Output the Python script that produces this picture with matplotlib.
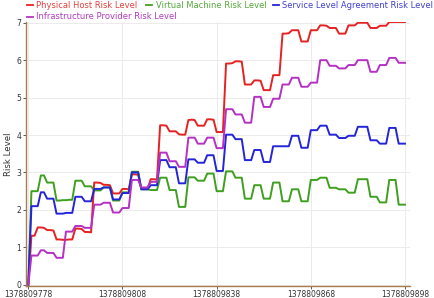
import numpy as np
import matplotlib
matplotlib.use("Agg")
import matplotlib.pyplot as plt
from matplotlib.lines import Line2D

# sample times (one per second)
t_start = 1378809778
t_end = 1378809898
times = np.arange(t_start, t_end + 1)
tick_times = [1378809778, 1378809808, 1378809838, 1378809868, 1378809898]

physical_host = [
    0,
    1.31, 1.31,
    1.53, 1.53, 1.52,
    1.46, 1.46, 1.45,
    1.21, 1.21, 1.20, 1.20, 1.21, 1.21,
    1.50, 1.50, 1.49,
    1.41, 1.41, 1.40,
    2.73, 2.73, 2.72, 2.67, 2.67, 2.66, 2.44, 2.44, 2.44, 2.56, 2.56, 2.55,
    2.95, 2.95, 2.94, 2.57, 2.57, 2.57, 2.82, 2.82, 2.81, 4.26, 4.26, 4.25,
    4.10, 4.10, 4.10, 4.02, 4.01, 4.01, 4.40, 4.41, 4.40, 4.25, 4.25, 4.25,
    4.42, 4.42, 4.41, 4.08, 4.08, 4.08, 5.91, 5.91, 5.92, 5.97, 5.97, 5.96,
    5.35, 5.35, 5.35, 5.46, 5.46, 5.45, 5.20, 5.20, 5.20, 5.60, 5.60, 5.60,
    6.71, 6.71, 6.72, 6.80, 6.80, 6.80, 6.50, 6.50, 6.50, 6.80, 6.80, 6.80,
    6.93, 6.93, 6.92, 6.86, 6.86, 6.86, 6.71, 6.71, 6.71, 6.93, 6.93, 6.93,
    7.00, 7.00, 7.00, 7.00, 6.86, 6.86, 6.86, 6.92, 6.92, 6.92,
    7.02, 7.02, 7.02, 7.02, 7.02, 7.02,
]

virtual_machine = [
    0,
    2.50, 2.50, 2.50,
    2.92, 2.92,
    2.73, 2.73, 2.73,
    2.25, 2.25, 2.26, 2.26, 2.27, 2.27,
    2.78, 2.78, 2.78,
    2.63, 2.63, 2.63,
    2.52, 2.52, 2.52, 2.60, 2.60, 2.60, 2.25, 2.25, 2.25, 2.47, 2.47, 2.47,
    3.02, 3.02, 3.02, 2.55, 2.55, 2.55, 2.53, 2.53, 2.53, 2.86, 2.86, 2.86,
    2.53, 2.53, 2.53, 2.08, 2.08, 2.08, 2.87, 2.87, 2.87, 2.78, 2.78, 2.78,
    2.97, 2.97, 2.97, 2.50, 2.50, 2.50, 3.03, 3.03, 3.03, 2.86, 2.86, 2.86,
    2.30, 2.30, 2.30, 2.66, 2.66, 2.66, 2.30, 2.30, 2.30, 2.73, 2.73, 2.73,
    2.23, 2.23, 2.23, 2.55, 2.55, 2.55, 2.23, 2.23, 2.23, 2.80, 2.80, 2.80,
    2.86, 2.86, 2.86, 2.59, 2.59, 2.59, 2.55, 2.55, 2.55, 2.46, 2.46, 2.46,
    2.82, 2.82, 2.82, 2.82, 2.35, 2.35, 2.35, 2.20, 2.20, 2.20,
    2.80, 2.80, 2.80, 2.14, 2.14, 2.14,
]

service_level = [
    0,
    2.10, 2.10, 2.10,
    2.47, 2.47,
    2.30, 2.30, 2.30,
    1.90, 1.90, 1.90, 1.92, 1.92, 1.92,
    2.35, 2.35, 2.35,
    2.23, 2.23, 2.23,
    2.56, 2.56, 2.56, 2.60, 2.60, 2.60, 2.28, 2.28, 2.28, 2.45, 2.45, 2.45,
    3.00, 3.00, 3.00, 2.55, 2.55, 2.55, 2.66, 2.66, 2.66, 3.33, 3.33, 3.33,
    3.14, 3.14, 3.14, 2.71, 2.71, 2.71, 3.35, 3.35, 3.35, 3.26, 3.26, 3.26,
    3.46, 3.46, 3.46, 3.04, 3.04, 3.04, 4.01, 4.01, 4.01, 3.89, 3.89, 3.89,
    3.33, 3.33, 3.33, 3.60, 3.60, 3.60, 3.28, 3.28, 3.28, 3.70, 3.70, 3.70,
    3.70, 3.70, 3.70, 3.98, 3.98, 3.98, 3.66, 3.66, 3.66, 4.13, 4.13, 4.13,
    4.25, 4.25, 4.25, 4.01, 4.01, 4.01, 3.92, 3.92, 3.92, 3.98, 3.98, 3.98,
    4.22, 4.22, 4.22, 4.22, 3.86, 3.86, 3.86, 3.77, 3.77, 3.77,
    4.19, 4.19, 4.19, 3.77, 3.77, 3.77,
]

infra_provider = [
    0,
    0.78, 0.78, 0.78,
    0.92, 0.92,
    0.85, 0.85, 0.85,
    0.72, 0.72, 0.72, 1.42, 1.42, 1.42,
    1.57, 1.57, 1.57,
    1.52, 1.52, 1.52,
    2.14, 2.14, 2.14, 2.19, 2.19, 2.19, 1.93, 1.93, 1.93, 2.05, 2.05, 2.05,
    2.80, 2.80, 2.80, 2.60, 2.60, 2.60, 2.75, 2.75, 2.75, 3.53, 3.53, 3.53,
    3.30, 3.30, 3.30, 3.15, 3.15, 3.15, 3.93, 3.93, 3.93, 3.77, 3.77, 3.77,
    3.93, 3.93, 3.93, 3.65, 3.65, 3.65, 4.69, 4.69, 4.69, 4.55, 4.55, 4.55,
    4.33, 4.33, 4.33, 5.02, 5.02, 5.02, 4.75, 4.75, 4.75, 4.97, 4.97, 4.97,
    5.35, 5.35, 5.35, 5.53, 5.53, 5.53, 5.29, 5.29, 5.29, 5.40, 5.40, 5.40,
    6.00, 6.00, 6.00, 5.85, 5.85, 5.85, 5.78, 5.78, 5.78, 5.87, 5.87, 5.87,
    6.00, 6.00, 6.00, 6.00, 5.69, 5.69, 5.69, 5.87, 5.87, 5.87,
    6.06, 6.06, 6.06, 5.93, 5.93, 5.93,
]

labels = ['Physical Host Risk Level', 'Virtual Machine Risk Level',
          'Service Level Agreement Risk Level', 'Infrastructure Provider Risk Level']
series = [physical_host, virtual_machine, service_level, infra_provider]
line_colors = ['#e52222', '#3f9f1f', '#2424d8', '#b531c4']
text_colors = ['#e64040', '#55a83a', '#4040cc', '#b23cc0']

W, H = 434, 298
fig = plt.figure(figsize=(W / 100, H / 100), dpi=100)
ax = fig.add_axes([26 / W, (H - 285.5) / H, 384 / W, (285.5 - 22) / H])

for vals, col in zip(series, line_colors):
    ax.plot(times, vals, color=col, lw=1.4, solid_joinstyle='round')

ax.set_xlim(t_start - 0.73, t_end + 1.6)
ax.set_ylim(-0.02, 7.02)
ax.set_xticks(tick_times)
ax.set_xticklabels([str(v) for v in tick_times])
ax.set_yticks(range(0, 8))
ax.grid(True, color='#ebebeb', lw=0.7)
ax.set_axisbelow(True)

for s in ['top', 'right']:
    ax.spines[s].set_visible(False)
for s in ['left', 'bottom']:
    ax.spines[s].set_color('#a97c50')
    ax.spines[s].set_linewidth(1.0)

ax.tick_params(axis='both', labelsize=5.5, length=2, width=0.7, colors='#555555',
               labelcolor='#333333', pad=1.5)
ax.set_ylabel('Risk Level', fontsize=6.2, color='#333333', labelpad=2)

# legend laid out like the original, across the top
leg_pos = [(27, 5), (146, 5), (273, 5), (27, 16.5)]
for (px, py), lab, lc, tc in zip(leg_pos, labels, line_colors, text_colors):
    fig.add_artist(Line2D([px / W, (px + 6) / W], [1 - py / H, 1 - py / H],
                          color=lc, lw=1.3, transform=fig.transFigure))
    fig.text((px + 9.5) / W, 1 - py / H, lab, fontsize=6, color=tc,
             va='center', ha='left')

fig.savefig('out.png', dpi=100)
